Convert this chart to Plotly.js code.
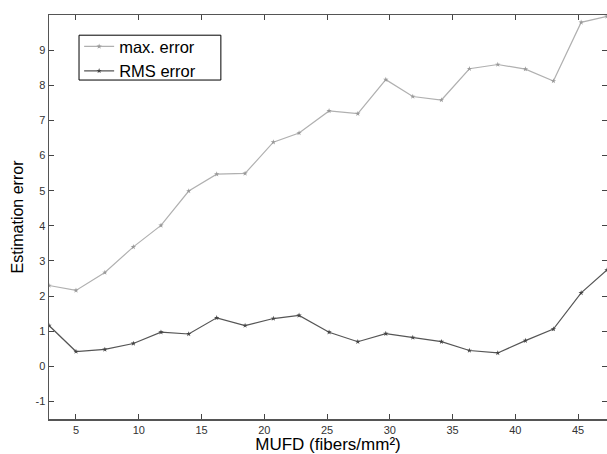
<!DOCTYPE html>
<html>
<head>
<meta charset="utf-8">
<script src="https://cdn.plot.ly/plotly-3.0.1.min.js"></script>
<style>html,body{margin:0;padding:0;background:#fff;}#chart{width:607px;height:454px;}</style>
</head>
<body>
<div id="chart"></div>
<script>
const mufd = [2.85, 5.0, 7.3, 9.57, 11.77, 13.98, 16.21, 18.47, 20.72, 22.77, 25.16, 27.45, 29.68, 31.83, 34.11, 36.34, 38.6, 40.8, 43.03, 45.24, 47.3];
const maxError = [2.30, 2.16, 2.67, 3.40, 4.01, 4.99, 5.47, 5.49, 6.38, 6.64, 7.27, 7.19, 8.16, 7.68, 7.58, 8.47, 8.59, 8.46, 8.12, 9.79, 9.96];
const rmsError = [1.16, 0.42, 0.48, 0.65, 0.97, 0.92, 1.38, 1.16, 1.36, 1.45, 0.97, 0.70, 0.93, 0.82, 0.70, 0.45, 0.38, 0.73, 1.06, 2.09, 2.74];
const xTicks = [5, 10, 15, 20, 25, 30, 35, 40, 45];
const yTicks = [-1, 0, 1, 2, 3, 4, 5, 6, 7, 8, 9];

const traces = [
  {x: mufd, y: maxError, name: 'max. error', mode: 'lines+markers', type: 'scatter',
   line: {color: '#b0b0b0', width: 1.2}, marker: {symbol: 'star', size: 4, color: '#999999'}},
  {x: mufd, y: rmsError, name: 'RMS error', mode: 'lines+markers', type: 'scatter',
   line: {color: '#555555', width: 1.2}, marker: {symbol: 'star', size: 4, color: '#444444'}}
];

const layout = {
  width: 607, height: 454,
  margin: {l: 49, r: 0, t: 15, b: 35},
  paper_bgcolor: '#ffffff', plot_bgcolor: '#ffffff',
  font: {family: 'Liberation Sans, Arial, sans-serif', color: '#000'},
  showlegend: true,
  legend: {x: 0.054, y: 0.965, xanchor: 'left', yanchor: 'top', borderwidth: 0,
           bgcolor: 'rgba(0,0,0,0)', font: {size: 16.5, color: '#000'}, tracegroupgap: 0},
  shapes: [{type: 'rect', xref: 'paper', yref: 'paper', x0: 0.0538, x1: 0.308, y0: 0.839, y1: 0.950,
            line: {color: '#000', width: 1}, fillcolor: '#fff', layer: 'above'}],
  xaxis: {range: [2.85, 47.3], tickvals: xTicks, ticktext: xTicks.map(String), ticks: 'inside', ticklen: 5,
          tickcolor: '#444', showline: true, linecolor: '#555', linewidth: 1.5, mirror: 'ticks',
          showgrid: false, zeroline: false, tickfont: {size: 11, color: '#333'},
          title: {text: 'MUFD (fibers/mm²)', font: {size: 17, color: '#000'}}},
  yaxis: {range: [-1.5, 10], tickvals: yTicks, ticktext: yTicks.map(String), ticks: 'inside', ticklen: 5,
          tickcolor: '#444', showline: true, linecolor: '#555', linewidth: 1.5, mirror: 'ticks',
          showgrid: false, zeroline: false, tickfont: {size: 11, color: '#333'},
          title: {text: 'Estimation error', font: {size: 16, color: '#000'}, standoff: 8}}
};

Plotly.newPlot('chart', traces, layout, {displayModeBar: false, staticPlot: true});
</script>
</body>
</html>
